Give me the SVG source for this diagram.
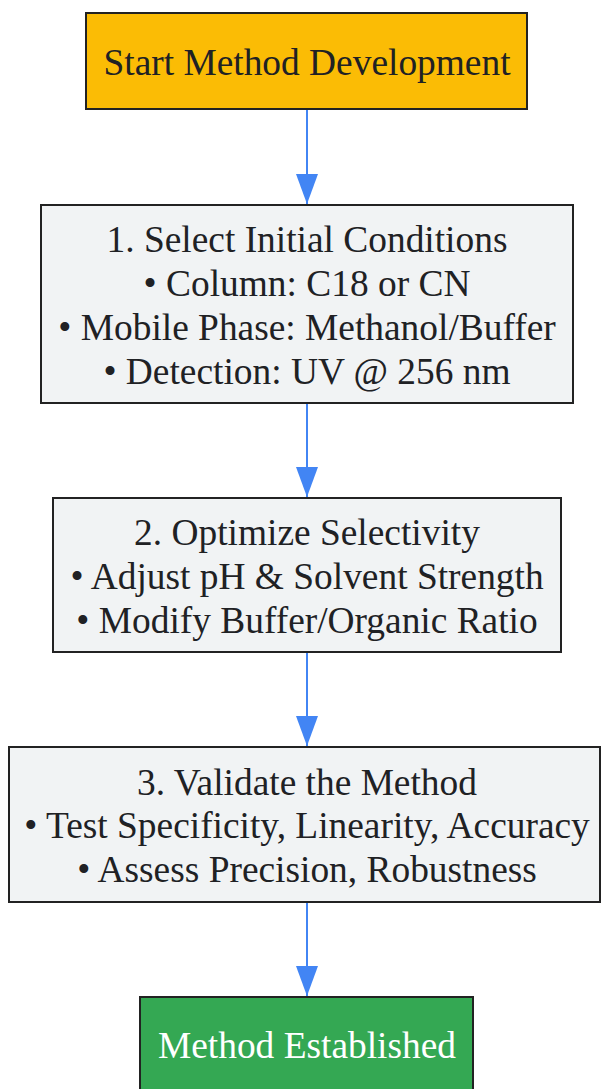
<svg xmlns="http://www.w3.org/2000/svg" width="603" height="1089" viewBox="0 0 603 1089">
<style>
.box{stroke:#222;stroke-width:2}
.gray{fill:#F1F3F4}
.t{font-family:"Liberation Serif","Times New Roman",serif;font-size:37.4px;fill:#202124;text-anchor:middle}
.w{fill:#ffffff}
.edge{stroke:#4285F4;stroke-width:2;fill:none}
</style>
<defs>
<marker id="arr" markerUnits="userSpaceOnUse" markerWidth="30" markerHeight="22" viewBox="0 0 30 22" refX="30" refY="11" orient="auto">
<path d="M0,0 L30,11 L0,22 z" fill="#4285F4"/>
</marker>
</defs>
<rect width="603" height="1089" fill="#ffffff"/>
<g id="connectors">
<line class="edge" x1="307" y1="109" x2="307" y2="204" marker-end="url(#arr)"/>
<line class="edge" x1="307" y1="403" x2="307" y2="497" marker-end="url(#arr)"/>
<line class="edge" x1="307" y1="652" x2="307" y2="746" marker-end="url(#arr)"/>
<line class="edge" x1="307" y1="902" x2="307" y2="996" marker-end="url(#arr)"/>
</g>
<g id="start">
<rect class="box" x="86" y="13" width="441" height="96" fill="#FBBC05"/>
<text class="t" x="307" y="75">Start Method Development</text>
</g>
<g id="step1">
<rect class="box gray" x="41" y="205" width="532" height="198"/>
<text class="t" x="307" y="252">1. Select Initial Conditions</text>
<text class="t" x="307" y="296">• Column: C18 or CN</text>
<text class="t" x="307" y="340">• Mobile Phase: Methanol/Buffer</text>
<text class="t" x="307" y="384">• Detection: UV @ 256 nm</text>
</g>
<g id="step2">
<rect class="box gray" x="53" y="498" width="508" height="154"/>
<text class="t" x="307" y="545">2. Optimize Selectivity</text>
<text class="t" x="307" y="589">• Adjust pH &amp; Solvent Strength</text>
<text class="t" x="307" y="633">• Modify Buffer/Organic Ratio</text>
</g>
<g id="step3">
<rect class="box gray" x="9" y="747" width="591" height="155"/>
<text class="t" x="307" y="795">3. Validate the Method</text>
<text class="t" x="307" y="838">• Test Specificity, Linearity, Accuracy</text>
<text class="t" x="307" y="882">• Assess Precision, Robustness</text>
</g>
<g id="end">
<rect class="box" x="140" y="997" width="333" height="100" fill="#34A853"/>
<text class="t w" x="307" y="1058">Method Established</text>
</g>
</svg>
